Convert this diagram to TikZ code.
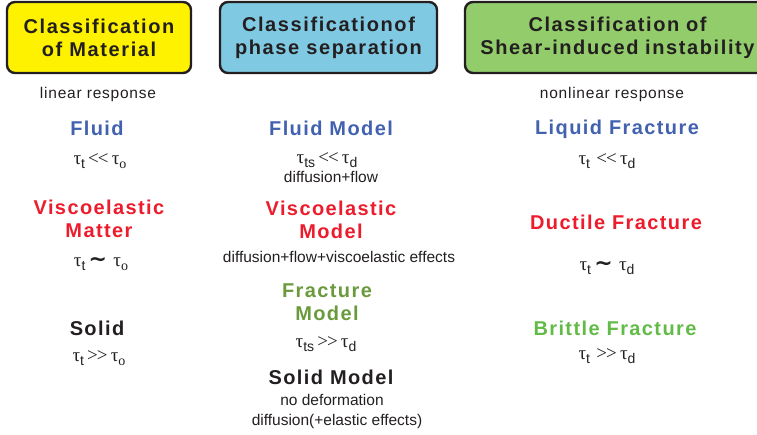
\documentclass[tikz,border=0pt]{standalone}
\usepackage{fontspec}
\setmainfont{Liberation Sans}
\newfontfamily\serf{Liberation Serif}
\newfontfamily\djv{DejaVu Sans}
\usetikzlibrary{positioning}

\definecolor{boxyellow}{HTML}{FFF200}
\definecolor{boxblue}{HTML}{7FC9E2}
\definecolor{boxgreen}{HTML}{93CD6B}
\definecolor{fluidblue}{HTML}{4262B0}
\definecolor{viscred}{HTML}{EC1C2C}
\definecolor{fracgreen}{HTML}{6A9A3C}
\definecolor{brittlegreen}{HTML}{62BB46}
\definecolor{textgray}{HTML}{231F20}

\newcommand{\ttau}[1]{{\serf τ}\raisebox{-0.4ex}{\fontsize{14}{14}\selectfont #1}}
\newcommand{\tsim}{\,{\djv\bfseries\fontsize{22}{22}\selectfont ∼}\,\,}
\newcommand{\tll}{\,{\serf <\kern-1pt<}\,}
\newcommand{\tgg}{\,{\serf >\kern-1pt>}\,}

\begin{document}
\begin{tikzpicture}[x=1pt, y=-1pt,
    head/.style = {draw=textgray, line width=2.4pt, rounded corners=8pt, minimum height=71pt, align=center,
                   font=\fontsize{20}{23}\selectfont\bfseries\addfontfeature{LetterSpace=8}, text=textgray},
    main/.style = {draw=none, align=center, text=textgray, font=\fontsize{20}{23}\selectfont\bfseries\addfontfeature{LetterSpace=7}},
    note/.style = {draw=none, align=center, text=textgray, font=\fontsize{15.5}{18}\selectfont\addfontfeature{LetterSpace=5}},
    rel/.style  = {draw=none, align=center, text=textgray, font=\fontsize{15.5}{18}\selectfont},
    tau/.style  = {draw=none, text=textgray, font=\fontsize{19}{20}\selectfont}]
    \clip (0,0) rectangle (757,435);
    \useasboundingbox (0,0) rectangle (757,435);

    % headers
    \node[head, fill=boxyellow, minimum width=184pt] (1) at (99,37.5)    {Classification\\of Material};
    \node[head, fill=boxblue,   minimum width=217pt] (2) at (328.5,37.5) {Classificationof\\phase separation};
    \node[head, fill=boxgreen,  minimum width=305pt, text width=290pt] (3) at (617.5,37.5) {Classification of\\Shear-induced instability};

    \node[note] (1a) at (98,94)  {linear response};
    \node[note] (3a) at (612,94) {nonlinear response};

    % material
    \node[main, text=fluidblue] (11) at (97,128)  {Fluid};
    \node[tau]                  (12) at (100,161) {\ttau{t}\tll\ttau{\serf o}};
    \node[main, text=viscred]   (13) at (99,219)  {Viscoelastic\\Matter};
    \node[tau]                  (14) at (101,264) {\ttau{t}\tsim\ttau{\serf o}};
    \node[main]                 (15) at (97,328)  {Solid};
    \node[tau]                  (16) at (99,358)  {\ttau{t}\tgg\ttau{\serf o}};

    % phase separation
    \node[main, text=fluidblue] (21) at (331,128) {Fluid Model};
    \node[tau]                  (22) at (327,160) {\ttau{ts}\tll\ttau{d}};
    \node[rel]                  (22a) at (331,177) {diffusion+flow};
    \node[main, text=viscred]   (23) at (331,220) {Viscoelastic\\Model};
    \node[rel]                  (24) at (339,257) {diffusion+flow+viscoelastic effects};
    \node[main, text=fracgreen] (25) at (327,302) {Fracture\\Model};
    \node[tau]                  (26) at (326,344) {\ttau{ts}\tgg\ttau{d}};
    \node[main]                 (27) at (331,377) {Solid Model};
    \node[rel]                  (28) at (332,400) {no deformation};
    \node[rel]                  (28a) at (337,421) {diffusion(+elastic effects)};

    % shear-induced instability
    \node[main, text=fluidblue]    (31) at (617,129) {Liquid Fracture};
    \node[tau]                     (32) at (607,161) {\ttau{t}\,\tll\ttau{d}};
    \node[main, text=viscred]      (33) at (616,222) {Ductile Fracture};
    \node[tau]                     (34) at (607,268) {\ttau{t}\tsim\ttau{d}};
    \node[main, text=brittlegreen] (35) at (615,328) {Brittle Fracture};
    \node[tau]                     (36) at (607,356) {\ttau{t}\,\tgg\ttau{d}};
\end{tikzpicture}
\end{document}
